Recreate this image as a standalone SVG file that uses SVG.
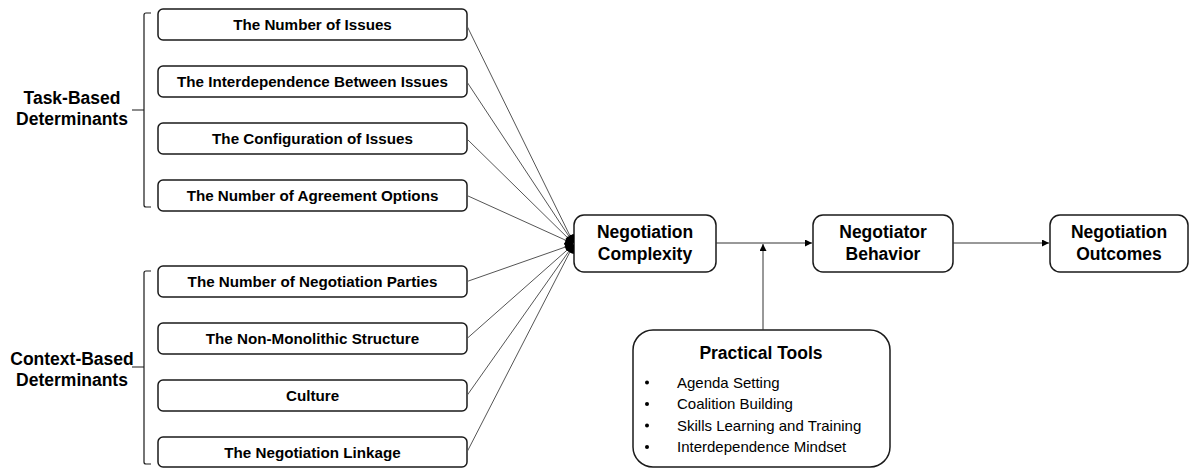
<svg xmlns="http://www.w3.org/2000/svg" width="1190" height="468" viewBox="0 0 1190 468">
  <defs>
    <marker id="arrow" viewBox="0 0 10 10" refX="10" refY="5" markerWidth="8" markerHeight="7" markerUnits="userSpaceOnUse" orient="auto">
      <path d="M0,0 L10,5 L0,10 Z" fill="#000"/>
    </marker>
    <marker id="arrow-in" viewBox="0 0 10 10" refX="10" refY="5" markerWidth="10" markerHeight="9" markerUnits="userSpaceOnUse" orient="auto">
      <path d="M0,0 L10,5 L0,10 Z" fill="#000"/>
    </marker>
    <style>
      .box { fill: #fff; stroke: #1a1a1a; stroke-width: 1.5; }
      .lbl { font-family: "Liberation Sans", Arial, sans-serif; font-weight: bold; font-size: 15.2px; fill: #000; text-anchor: middle; }
      .big { font-family: "Liberation Sans", Arial, sans-serif; font-weight: bold; font-size: 17.5px; fill: #000; text-anchor: middle; }
      .item { font-family: "Liberation Sans", Arial, sans-serif; font-size: 15px; fill: #000; }
      .brace { fill: none; stroke: #1a1a1a; stroke-width: 1.2; }
      .conn { fill: none; stroke: #555; stroke-width: 1; }
      .flow { fill: none; stroke: #333; stroke-width: 1; }
    </style>
  </defs>

  <rect width="1190" height="468" fill="#fff"/>

  <!-- group labels with braces -->
  <g id="task-based">
    <path class="brace" d="M151,13 L146,13 Q144,13 144,15 L144,205 Q144,207 146,207 L151,207 M144,110 L132,110"/>
    <text class="big" x="72" y="103.5">Task-Based</text>
    <text class="big" x="72" y="125">Determinants</text>
  </g>
  <g id="context-based">
    <path class="brace" d="M151,271 L146,271 Q144,271 144,273 L144,462 Q144,464 146,464 L151,464 M144,367 L132,367"/>
    <text class="big" x="72" y="364.5">Context-Based</text>
    <text class="big" x="72" y="386">Determinants</text>
  </g>

  <!-- determinant nodes -->
  <g id="n-issues"><rect class="box" x="158" y="9" width="309" height="31" rx="5"/><text class="lbl" x="312.5" y="30">The Number of Issues</text></g>
  <g id="n-interdependence"><rect class="box" x="158" y="66" width="309" height="31" rx="5"/><text class="lbl" x="312.5" y="87">The Interdependence Between Issues</text></g>
  <g id="n-configuration"><rect class="box" x="158" y="123" width="309" height="31" rx="5"/><text class="lbl" x="312.5" y="144">The Configuration of Issues</text></g>
  <g id="n-options"><rect class="box" x="158" y="180" width="309" height="31" rx="5"/><text class="lbl" x="312.5" y="201">The Number of Agreement Options</text></g>
  <g id="n-parties"><rect class="box" x="158" y="266" width="309" height="31" rx="5"/><text class="lbl" x="312.5" y="287">The Number of Negotiation Parties</text></g>
  <g id="n-structure"><rect class="box" x="158" y="323" width="309" height="31" rx="5"/><text class="lbl" x="312.5" y="344">The Non-Monolithic Structure</text></g>
  <g id="n-culture"><rect class="box" x="158" y="380" width="309" height="31" rx="5"/><text class="lbl" x="312.5" y="401">Culture</text></g>
  <g id="n-linkage"><rect class="box" x="158" y="437" width="309" height="30" rx="5"/><text class="lbl" x="312.5" y="457.5">The Negotiation Linkage</text></g>

  <!-- main chain -->
  <g id="n-complexity">
    <rect class="box" x="574" y="215" width="142" height="57" rx="10"/>
    <text class="big" x="645" y="238">Negotiation</text>
    <text class="big" x="645" y="259.5">Complexity</text>
  </g>
  <g id="n-behavior">
    <rect class="box" x="813" y="215" width="140" height="57" rx="10"/>
    <text class="big" x="883" y="238">Negotiator</text>
    <text class="big" x="883" y="259.5">Behavior</text>
  </g>
  <g id="n-outcomes">
    <rect class="box" x="1050" y="215" width="138" height="57" rx="10"/>
    <text class="big" x="1119" y="238">Negotiation</text>
    <text class="big" x="1119" y="259.5">Outcomes</text>
  </g>

  <g id="n-tools">
    <rect class="box" x="633" y="330" width="257" height="137" rx="20"/>
    <text class="big" x="761" y="359">Practical Tools</text>
    <g fill="#000">
      <circle cx="647" cy="382.5" r="2"/>
      <circle cx="647" cy="404" r="2"/>
      <circle cx="647" cy="425.5" r="2"/>
      <circle cx="647" cy="447" r="2"/>
    </g>
    <text class="item" x="677" y="387.5">Agenda Setting</text>
    <text class="item" x="677" y="409">Coalition Building</text>
    <text class="item" x="677" y="430.5">Skills Learning and Training</text>
    <text class="item" x="677" y="452">Interdependence Mindset</text>
  </g>

  <!-- connectors -->
  <g id="connectors">
    <line class="conn" x1="467" y1="26" x2="574" y2="244" marker-end="url(#arrow-in)"/>
    <line class="conn" x1="467" y1="82" x2="574" y2="244" marker-end="url(#arrow-in)"/>
    <line class="conn" x1="467" y1="139" x2="574" y2="244" marker-end="url(#arrow-in)"/>
    <line class="conn" x1="467" y1="195.5" x2="574" y2="244" marker-end="url(#arrow-in)"/>
    <line class="conn" x1="467" y1="281.5" x2="574" y2="244" marker-end="url(#arrow-in)"/>
    <line class="conn" x1="467" y1="338.5" x2="574" y2="244" marker-end="url(#arrow-in)"/>
    <line class="conn" x1="467" y1="395.5" x2="574" y2="244" marker-end="url(#arrow-in)"/>
    <line class="conn" x1="467" y1="452" x2="574" y2="244" marker-end="url(#arrow-in)"/>
    <line class="flow" x1="716" y1="243" x2="812" y2="243" marker-end="url(#arrow)"/>
    <line class="flow" x1="953" y1="243" x2="1049" y2="243" marker-end="url(#arrow)"/>
    <line class="flow" x1="763" y1="330" x2="763" y2="244" marker-end="url(#arrow)"/>
  </g>
</svg>
